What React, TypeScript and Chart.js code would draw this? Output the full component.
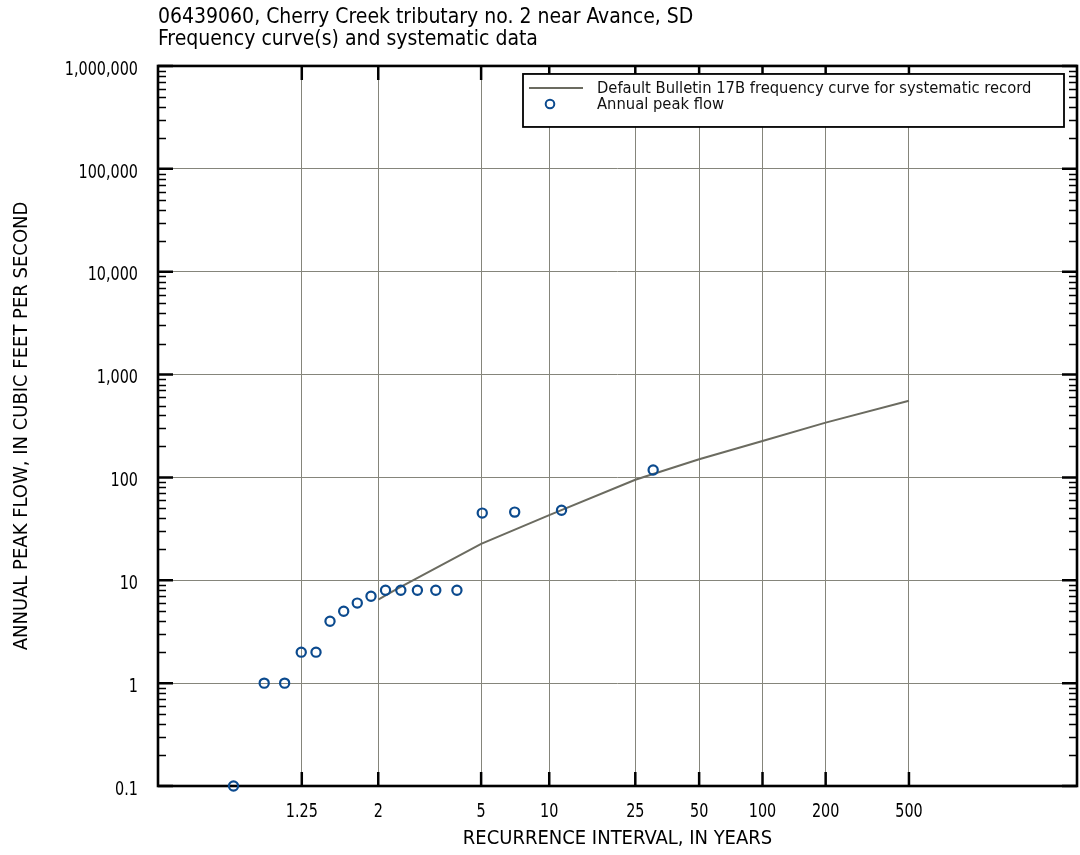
import React, { useEffect, useRef } from 'react';
import { Chart, registerables } from 'chart.js';

Chart.register(...registerables);

// ---------- Text ----------
const titleLines = [
  '06439060, Cherry Creek tributary no. 2 near Avance, SD',
  'Frequency curve(s) and systematic data',
];
const xAxisTitle = 'RECURRENCE INTERVAL, IN YEARS';
const yAxisTitle = 'ANNUAL PEAK FLOW, IN CUBIC FEET PER SECOND';
const legendLabels = [
  'Default Bulletin 17B frequency curve for systematic record',
  'Annual peak flow',
];

// ---------- Ticks ----------
const xTickIntervals = [1.25, 2, 5, 10, 25, 50, 100, 200, 500];
const xTickLabels = ['1.25', '2', '5', '10', '25', '50', '100', '200', '500'];
const yTickValues = [0.1, 1, 10, 100, 1000, 10000, 100000, 1000000];
const yTickLabels = ['0.1', '1', '10', '100', '1,000', '10,000', '100,000', '1,000,000'];

// ---------- Data ----------
// Annual peak flows (cfs) and their plotted recurrence intervals (years)
const peakIntervals = [30.33, 11.375, 7.0, 5.056, 3.957, 3.25, 2.758, 2.395, 2.116, 1.894, 1.717, 1.569, 1.444, 1.338, 1.247, 1.167, 1.096, 1.034];
const peakFlows = [118, 48, 46, 45, 8, 8, 8, 8, 8, 7, 6, 5, 4, 2, 2, 1, 1, 0.1];
// Bulletin 17B frequency curve
const curveIntervals = [2, 2.33, 5, 10, 25, 50, 100, 200, 500];
const curveFlows = [6.5, 8.3, 22.6, 43, 95, 150, 226, 341, 557];

// ---------- Style ----------
const FONT = "'DejaVu Sans Condensed', 'Liberation Sans', sans-serif";
const GRID = '#85857b';
const CURVE = '#6b6b60';
const MARKER = '#0b4a8e';
const SQUEEZE = 0.8;

// Gumbel (extreme-value) reduced variate used for the recurrence-interval axis
const gumbel = (T: number) => -Math.log(-Math.log(1 - 1 / T));
const X_MIN = -2.06;
const X_MAX = 8.065;

function squeezedText(ctx: CanvasRenderingContext2D, text: string, x: number, y: number, align: 'left' | 'center' | 'right') {
  const w = ctx.measureText(text).width * SQUEEZE;
  const x0 = align === 'right' ? x - w : align === 'center' ? x - w / 2 : x;
  ctx.textAlign = 'left';
  ctx.fillText(text, x0, y, w);
}

const framePlugin = {
  id: 'frame',
  beforeDatasetsDraw(chart: any) {
    const { ctx, chartArea, scales } = chart;
    const { left, right, top, bottom } = chartArea;
    const y = scales.y;
    const x = scales.x;
    ctx.save();
    ctx.strokeStyle = '#000';
    // minor y ticks
    ctx.lineWidth = 1.3;
    for (let d = 0; d < yTickValues.length - 1; d++) {
      for (let k = 2; k <= 9; k++) {
        const py = Math.round(y.getPixelForValue(yTickValues[d] * k)) + 0.5;
        ctx.beginPath();
        ctx.moveTo(left, py);
        ctx.lineTo(left + 8, py);
        ctx.moveTo(right, py);
        ctx.lineTo(right - 8, py);
        ctx.stroke();
      }
    }
    // major y ticks
    ctx.lineWidth = 2.5;
    yTickValues.forEach((v) => {
      const py = y.getPixelForValue(v);
      ctx.beginPath();
      ctx.moveTo(left, py);
      ctx.lineTo(left + 15, py);
      ctx.moveTo(right, py);
      ctx.lineTo(right - 15, py);
      ctx.stroke();
    });
    // x ticks
    xTickIntervals.forEach((T) => {
      const px = x.getPixelForValue(gumbel(T));
      ctx.beginPath();
      ctx.moveTo(px, bottom);
      ctx.lineTo(px, bottom - 14);
      ctx.moveTo(px, top);
      ctx.lineTo(px, top + 14);
      ctx.stroke();
    });
    // frame
    ctx.lineWidth = 2.6;
    ctx.strokeRect(left, top, right - left, bottom - top);
    ctx.restore();
  },
};

const tickLabelPlugin = {
  id: 'tickLabels',
  afterDraw(chart: any) {
    const { ctx, chartArea, scales } = chart;
    ctx.save();
    ctx.fillStyle = '#000';
    ctx.font = `20px ${FONT}`;
    ctx.textBaseline = 'middle';
    yTickValues.forEach((v, i) => {
      const py = scales.y.getPixelForValue(v);
      squeezedText(ctx, yTickLabels[i], chartArea.left - 20, py + 3.5, 'right');
    });
    xTickIntervals.forEach((T, i) => {
      const px = scales.x.getPixelForValue(gumbel(T));
      squeezedText(ctx, xTickLabels[i], px, chartArea.bottom + 26, 'center');
    });
    ctx.restore();
  },
};

const legendPlugin = {
  id: 'boxLegend',
  afterDraw(chart: any) {
    const { ctx, chartArea } = chart;
    const bx = chartArea.right - 554;
    const by = chartArea.top + 8;
    const bw = 541;
    const bh = 53;
    ctx.save();
    ctx.fillStyle = '#fff';
    ctx.fillRect(bx, by, bw, bh);
    ctx.strokeStyle = '#000';
    ctx.lineWidth = 1.8;
    ctx.strokeRect(bx, by, bw, bh);
    // line sample
    ctx.strokeStyle = CURVE;
    ctx.lineWidth = 2;
    ctx.beginPath();
    ctx.moveTo(bx + 6, by + 14);
    ctx.lineTo(bx + 60, by + 14);
    ctx.stroke();
    // marker sample
    ctx.strokeStyle = MARKER;
    ctx.lineWidth = 2;
    ctx.beginPath();
    ctx.arc(bx + 27, by + 30, 4.3, 0, Math.PI * 2);
    ctx.stroke();
    // text
    ctx.fillStyle = '#111';
    ctx.font = `16.4px ${FONT}`;
    ctx.textBaseline = 'middle';
    ctx.textAlign = 'left';
    ctx.fillText(legendLabels[0], bx + 74, by + 15);
    ctx.fillText(legendLabels[1], bx + 74, by + 31);
    ctx.restore();
  },
};

export default function App() {
  const ref = useRef<HTMLCanvasElement | null>(null);

  useEffect(() => {
    if (!ref.current) return;
    const chart = new Chart(ref.current, {
      type: 'scatter',
      data: {
        datasets: [
          {
            label: legendLabels[1],
            data: peakIntervals.map((T, i) => ({ x: gumbel(T), y: peakFlows[i] })),
            showLine: false,
            pointStyle: 'circle',
            pointRadius: 4.6,
            pointBorderWidth: 2.2,
            borderColor: MARKER,
            backgroundColor: 'rgba(255,255,255,0)',
            clip: false as any,
          },
          {
            label: legendLabels[0],
            data: curveIntervals.map((T, i) => ({ x: gumbel(T), y: curveFlows[i] })),
            showLine: true,
            pointRadius: 0,
            borderColor: CURVE,
            borderWidth: 2,
            fill: false,
          },
        ],
      },
      options: {
        animation: false,
        responsive: false,
        maintainAspectRatio: false,
        layout: { autoPadding: false, padding: { left: 0, right: 3, top: 0, bottom: 0 } },
        plugins: {
          legend: { display: false },
          tooltip: { enabled: false },
          title: {
            display: true,
            text: titleLines,
            align: 'start',
            fullSize: false,
            color: '#000',
            font: { family: FONT, size: 21, lineHeight: 1.08, weight: 'normal' },
            padding: { top: 6, bottom: 14.6 },
          },
        },
        scales: {
          x: {
            type: 'linear',
            min: X_MIN,
            max: X_MAX,
            afterFit: (s: any) => {
              s.height = 69;
              s.paddingLeft = 0;
              s.paddingRight = 0;
            },
            afterBuildTicks: (s: any) => {
              s.ticks = xTickIntervals.map((T) => ({ value: gumbel(T) }));
            },
            ticks: { display: false, autoSkip: false, maxRotation: 0 },
            grid: { color: GRID, lineWidth: 1, drawTicks: false },
            border: { display: false },
            title: {
              display: true,
              text: xAxisTitle,
              color: '#000',
              font: { family: FONT, size: 20 },
              padding: { top: 0, bottom: 4 },
            },
          },
          y: {
            type: 'logarithmic',
            min: 0.1,
            max: 1000000,
            afterFit: (s: any) => {
              s.width = 158;
              s.paddingTop = 0;
              s.paddingBottom = 0;
            },
            afterBuildTicks: (s: any) => {
              s.ticks = yTickValues.map((v) => ({ value: v }));
            },
            ticks: { display: false, autoSkip: false },
            grid: { color: GRID, lineWidth: 1, drawTicks: false },
            border: { display: false },
            title: {
              display: true,
              text: yAxisTitle,
              color: '#000',
              font: { family: FONT, size: 20 },
              padding: { top: 10, bottom: 0 },
            },
          },
        },
      },
      plugins: [framePlugin, tickLabelPlugin, legendPlugin],
    });
    return () => chart.destroy();
  }, []);

  return (
    <div style={{ position: 'absolute', left: 0, top: 0, width: 1080, height: 855, background: '#fff' }}>
      <canvas ref={ref} width={1080} height={855} style={{ display: 'block', width: 1080, height: 855 }} />
    </div>
  );
}
